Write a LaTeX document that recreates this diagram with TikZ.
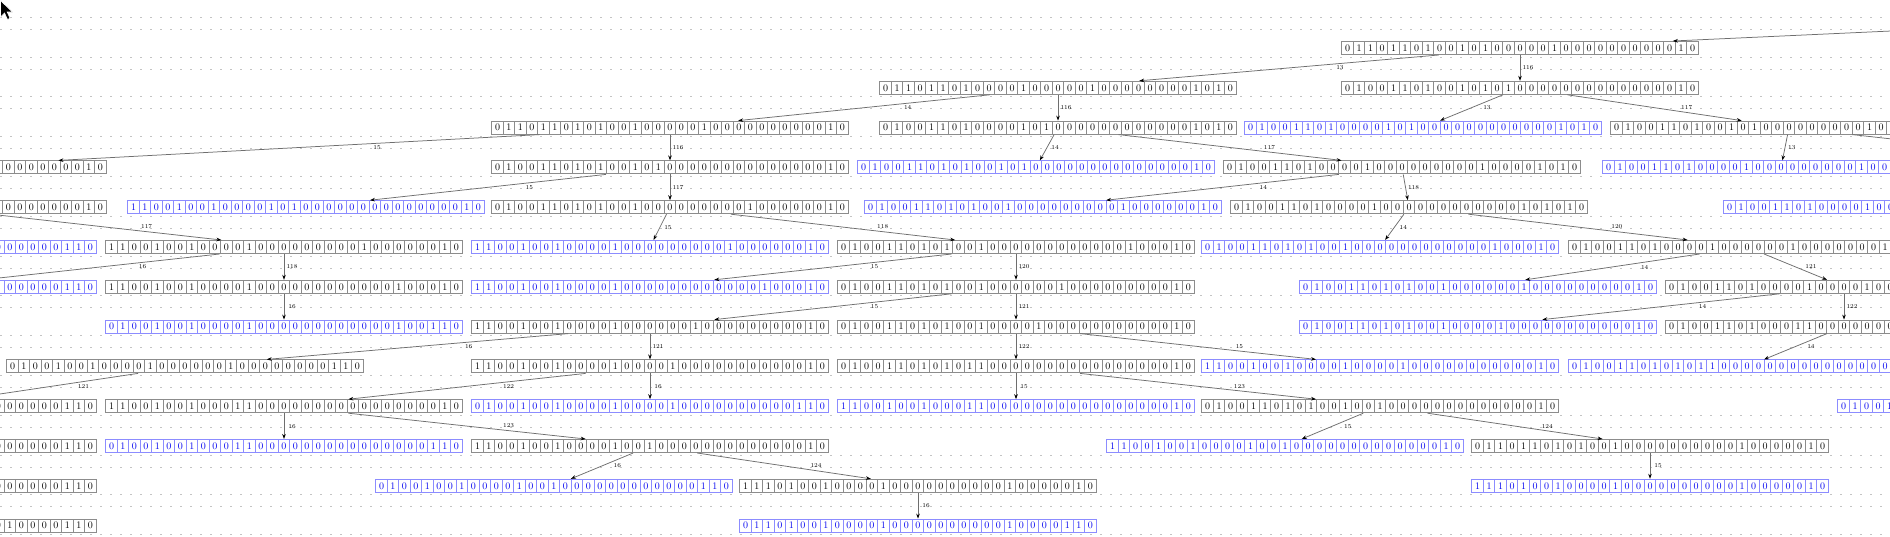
\documentclass[tikz,border=0pt]{standalone}
\usepackage{fontspec}
\usetikzlibrary{arrows.meta}
\definecolor{linkgray}{HTML}{6E6E6E}
\definecolor{rowgray}{HTML}{8C8C8C}
\definecolor{seenblue}{HTML}{8C8CFF}
\definecolor{seentext}{HTML}{0000F0}
\definecolor{dotgray}{HTML}{C4C4C4}
\newcommand\bits[1]{\bitsloop#1\relax}
\def\bitsloop#1{\ifx#1\relax\else\makebox[11.5pt]{#1}\expandafter\bitsloop\fi}
\tikzset{
  bitrow/.style={rectangle, draw=#1, fill=white, line width=1pt, inner sep=0pt,
    minimum width=356.5pt, minimum height=13pt, font=\fontsize{10}{10}\selectfont,
    path picture={\foreach \k in {1,...,30}
      \draw[#1, line width=0.7pt] ([xshift=\k*11.5pt]path picture bounding box.north west)
        -- ([xshift=\k*11.5pt]path picture bounding box.south west);}},
  state/.style={bitrow=rowgray, text=black},
  seen/.style={bitrow=seenblue, text=seentext},
  tr left/.style={pos=.35, xshift=6pt, yshift=-4pt},
  tr right/.style={pos=.65, xshift=6pt, yshift=4pt},
  tr down/.style={pos=.5, xshift=8pt}
}
\begin{document}
\begin{tikzpicture}[x=1pt, y=-1pt, node distance=39.8pt,
    every edge/.style={draw=linkgray, line width=0.75pt, -{Stealth[length=5pt, width=3.6pt, color=black]}}]
        \tikzstyle{every node}=[font=\fontsize{6}{6}\selectfont, inner sep=0.5pt]
        \useasboundingbox (0,0) rectangle (1890,536);
        \fill[white] (0,0) rectangle (1890,536);

        % dotted canvas grid
        \foreach \k in {-1,...,12} {
          \draw[dotgray, line width=1pt, dash pattern=on 1.5pt off 8.5pt] (0,{57+39.8*\k}) -- (1890,{57+39.8*\k});
          \draw[dotgray, line width=1pt, dash pattern=on 1.5pt off 8.5pt] (0,{69+39.8*\k}) -- (1890,{69+39.8*\k});
        }

          \node[state] (r0a) at (1520,48) {\bits{0110110100 1010000010 0000000001 0}};

          \node[state] (r1a) at (1058,87.8) {\bits{0110110100 0010000010 0000000101 0}};
          \node[state] (r1b) [below of=r0a] {\bits{0100110100 1010100000 0000000001 0}};

          \node[state] (r2a) at (670,127.6) {\bits{0110110101 0010000010 0000000001 0}};
          \node[state] (r2b) [below of=r1a] {\bits{0100110100 0010100000 0000000101 0}};
          \node[seen] (r2c) at (1423,127.6) {\bits{0100110100 0010100000 0000000101 0}};
          \node[state] (r2d) at (1789,127.6) {\bits{0100110100 1010000000 0010000001 0}};

          \node[state] (r3a) at (-72,167.4) {\bits{1110100100 0010000010 0000000001 0}};
          \node[state] (r3b) [below of=r2a] {\bits{0100110101 0010100000 0000000001 0}};
          \node[seen] (r3c) at (1036,167.4) {\bits{0100110101 0010100000 0000000001 0}};
          \node[state] (r3d) at (1402,167.4) {\bits{0100110100 0010000000 0010000101 0}};
          \node[seen] (r3e) at (1781,167.4) {\bits{0100110100 0010000000 0010000101 0}};

          \node[state] (r4a) [below of=r3a] {\bits{1100100100 0010100000 0000000001 0}};
          \node[seen] (r4b) at (306,207.2) {\bits{1100100100 0010100000 0000000001 0}};
          \node[state] (r4c) [below of=r3b] {\bits{0100110101 0010000000 0010000001 0}};
          \node[seen] (r4d) at (1043,207.2) {\bits{0100110101 0010000000 0010000001 0}};
          \node[state] (r4e) at (1409,207.2) {\bits{0100110100 0010000000 0000010101 0}};
          \node[seen] (r4f) at (1902,207.2) {\bits{0100110100 0010000000 0000010101 0}};

          \node[seen] (r5a) at (-82,247) {\bits{0100100100 0010100000 0000000011 0}};
          \node[state] (r5b) at (284,247) {\bits{1100100100 0010000000 0010000001 0}};
          \node[seen] (r5c) at (650,247) {\bits{1100100100 0010000000 0010000001 0}};
          \node[state] (r5d) at (1016,247) {\bits{0100110101 0010000000 0000010001 0}};
          \node[seen] (r5e) at (1380,247) {\bits{0100110101 0010000000 0000010001 0}};
          \node[state] (r5f) at (1747,247) {\bits{0100110100 0010000001 0000000101 0}};

          \node[seen] (r6a) [below of=r5a] {\bits{0100100100 0010000000 0010000011 0}};
          \node[state] (r6b) [below of=r5b] {\bits{1100100100 0010000000 0000010001 0}};
          \node[seen] (r6c) [below of=r5c] {\bits{1100100100 0010000000 0000010001 0}};
          \node[state] (r6d) [below of=r5d] {\bits{0100110101 0010000001 0000000001 0}};
          \node[seen] (r6e) at (1478,286.8) {\bits{0100110101 0010000001 0000000001 0}};
          \node[state] (r6f) at (1844,286.8) {\bits{0100110100 0010000100 0000000101 0}};

          \node[seen] (r7a) [below of=r6b] {\bits{0100100100 0010000000 0000010011 0}};
          \node[state] (r7b) [below of=r6c] {\bits{1100100100 0010000001 0000000001 0}};
          \node[state] (r7c) [below of=r6d] {\bits{0100110101 0010000100 0000000001 0}};
          \node[seen] (r7d) [below of=r6e] {\bits{0100110101 0010000100 0000000001 0}};
          \node[state] (r7e) [below of=r6f] {\bits{0100110100 0110000000 0000000101 0}};

          \node[state] (r8a) at (185,366.4) {\bits{0100100100 0010000001 0000000011 0}};
          \node[state] (r8b) [below of=r7b] {\bits{1100100100 0010000100 0000000001 0}};
          \node[state] (r8c) [below of=r7c] {\bits{0100110101 0110000000 0000000001 0}};
          \node[seen] (r8d) at (1380,366.4) {\bits{1100100100 0010000100 0000000001 0}};
          \node[seen] (r8e) at (1747,366.4) {\bits{0100110101 0110000000 0000000001 0}};

          \node[state] (r9a) at (-82,406.2) {\bits{0100100100 0010000100 0000000011 0}};
          \node[state] (r9b) at (284,406.2) {\bits{1100100100 0110000000 0000000001 0}};
          \node[seen] (r9c) [below of=r8b] {\bits{0100100100 0010000100 0000000011 0}};
          \node[seen] (r9d) [below of=r8c] {\bits{1100100100 0110000000 0000000001 0}};
          \node[state] (r9e) [below of=r8d] {\bits{0100110101 0010010000 0000000001 0}};
          \node[seen] (r9f) at (2016,406.2) {\bits{0100110101 0010010000 0000000001 0}};

          \node[state] (r10a) [below of=r9a] {\bits{0100100100 0110000000 0000000011 0}};
          \node[seen] (r10b) [below of=r9b] {\bits{0100100100 0110000000 0000000011 0}};
          \node[state] (r10c) at (650,446) {\bits{1100100100 0010010000 0000000001 0}};
          \node[seen] (r10d) at (1285,446) {\bits{1100100100 0010010000 0000000001 0}};
          \node[state] (r10e) at (1650,446) {\bits{0110110101 0010000000 0001000001 0}};

          \node[state] (r11a) [below of=r10a] {\bits{0100100100 0010010000 0000000011 0}};
          \node[seen] (r11b) at (554,485.8) {\bits{0100100100 0010010000 0000000011 0}};
          \node[state] (r11c) at (918,485.8) {\bits{1110100100 0010000000 0001000001 0}};
          \node[seen] (r11d) [below of=r10e] {\bits{1110100100 0010000000 0001000001 0}};

          \node[state] (r12a) [below of=r11a] {\bits{0110100100 0010000000 0001000011 0}};
          \node[seen] (r12b) [below of=r11c] {\bits{0110100100 0010000000 0001000011 0}};

          \coordinate (in) at (1900,30.6);
          \coordinate (off) at (2149,167.4);

          \path (in) edge (r0a);
          \path (r0a) edge node[tr left] {13} (r1a) edge node[tr down] {116} (r1b);
          \path (r1a) edge node[tr left] {14} (r2a) edge node[tr down] {116} (r2b);
          \path (r1b) edge node[tr left] {13} (r2c) edge node[tr right] {117} (r2d);
          \path (r2a) edge node[tr left] {15} (r3a) edge node[tr down] {116} (r3b);
          \path (r2b) edge node[tr left] {14} (r3c) edge node[tr right] {117} (r3d);
          \path (r2d) edge node[tr left] {13} (r3e) edge (off);
          \path (r3b) edge node[tr left] {15} (r4b) edge node[tr down] {117} (r4c);
          \path (r3d) edge node[tr left] {14} (r4d) edge node[tr down] {118} (r4e);
          \path (r4a) edge node[tr right] {117} (r5b);
          \path (r4c) edge node[tr left] {15} (r5c) edge node[tr right] {118} (r5d);
          \path (r4e) edge node[tr left] {14} (r5e) edge node[tr right] {120} (r5f);
          \path (r5b) edge node[tr left] {16} (r6a) edge node[tr down] {118} (r6b);
          \path (r5d) edge node[tr left] {15} (r6c) edge node[tr down] {120} (r6d);
          \path (r5f) edge node[tr left] {14} (r6e) edge node[tr right] {121} (r6f);
          \path (r6b) edge node[tr down] {16} (r7a);
          \path (r6d) edge node[tr left] {15} (r7b) edge node[tr down] {121} (r7c);
          \path (r6f) edge node[tr left] {14} (r7d) edge node[tr down] {122} (r7e);
          \path (r7b) edge node[tr left] {16} (r8a) edge node[tr down] {121} (r8b);
          \path (r7c) edge node[tr down] {122} (r8c) edge node[tr right] {15} (r8d);
          \path (r7e) edge node[tr left] {14} (r8e);
          \path (r8a) edge node[tr left] {121} (r9a);
          \path (r8b) edge node[tr left] {122} (r9b) edge node[tr down] {16} (r9c);
          \path (r8c) edge node[tr down] {15} (r9d) edge node[tr right] {123} (r9e);
          \path (r9b) edge node[tr down] {16} (r10b) edge node[tr right] {123} (r10c);
          \path (r9e) edge node[tr left] {15} (r10d) edge node[tr right] {124} (r10e);
          \path (r10c) edge node[tr left] {16} (r11b) edge node[tr right] {124} (r11c);
          \path (r10e) edge node[tr down] {15} (r11d);
          \path (r11c) edge node[tr down] {16} (r12b);

        % mouse pointer
        \filldraw[fill=black, draw=white, line width=0.6pt] (0.5,0.5) -- (0.5,17) -- (4.5,13) -- (7.5,19.5)
          -- (10,18.3) -- (7.2,12) -- (12.5,12) -- cycle;
        \end{tikzpicture}
\end{document}
